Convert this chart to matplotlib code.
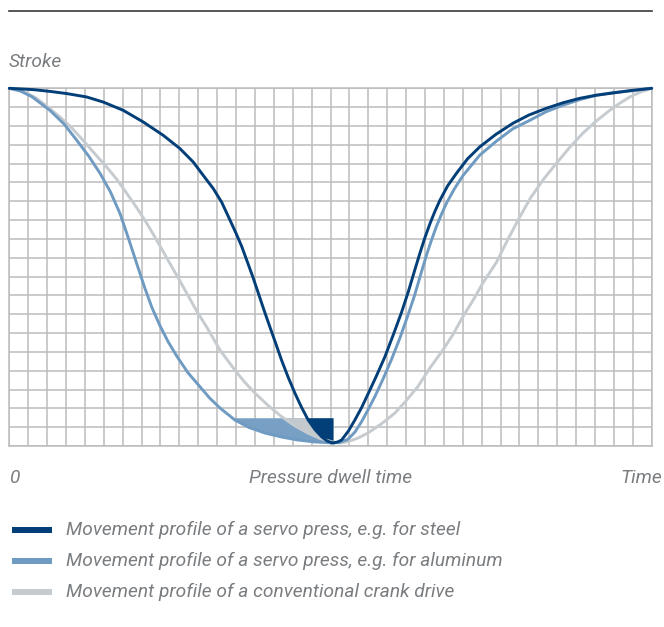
import matplotlib
matplotlib.use("Agg")
import matplotlib.pyplot as plt
from matplotlib.lines import Line2D
from matplotlib.patches import Rectangle

# grid units: 34 columns x 19 rows, stroke 19 = top dead centre
steel_x = [0, 1.27, 2.2, 3.04, 4.09, 4.97, 6.03, 7.09, 8.15, 9.03, 9.73, 10.26, 10.79,
           11.24, 11.68, 12.0, 12.3, 12.6, 12.9, 13.17, 13.48, 13.79, 14.1, 14.41,
           14.76, 15.12, 15.47, 15.82, 16.18, 16.53, 16.85, 17.13,
           17.4, 17.59, 17.95, 18.29, 18.65, 18.98, 19.43, 19.88, 20.32, 20.76, 21.12,
           21.47, 21.75, 21.99, 22.26, 22.52, 22.79, 23.2, 23.67, 24.25, 24.9, 25.75,
           26.65, 27.5, 28.43, 29.3, 30.2, 31.05, 31.94, 32.9, 34]
steel_y = [19, 18.93, 18.83, 18.72, 18.54, 18.27, 17.83, 17.21, 16.5, 15.8, 15.09, 14.38, 13.68,
           12.95, 12.0, 11.3, 10.6, 9.78, 8.95, 8.15, 7.22, 6.33, 5.45, 4.56,
           3.65, 2.8, 2.05, 1.38, 0.87, 0.49, 0.25, 0.16,
           0.22, 0.32, 0.8, 1.38, 2.05, 2.75, 3.72, 4.74, 5.9, 7.1, 8.2,
           9.38, 10.3, 11.05, 11.8, 12.45, 13.05, 13.82, 14.49, 15.25, 15.89, 16.55,
           17.14, 17.58, 17.94, 18.23, 18.47, 18.63, 18.75, 18.88, 19]

alu_x = [0, 0.6, 1.2, 2.15, 2.9, 3.57, 4.2, 4.8, 5.35, 5.86, 6.3, 6.74, 7.17, 7.55, 7.97,
         8.4, 8.86, 9.45, 10.09, 10.6, 11.15, 11.94, 12.7, 13.53, 14.4, 15.27, 16.1,
         16.86, 17.13,
         17.5, 17.92, 18.3, 18.65, 19.0, 19.36, 19.8, 20.23, 20.66, 21.1, 21.45, 21.8,
         22.1, 22.35, 22.6, 22.87, 23.13, 23.55, 24.0, 24.9, 25.79, 26.65, 27.55, 28.4,
         29.3, 30.2, 31.08, 31.95, 32.84, 34]
alu_y = [19, 18.85, 18.55, 17.83, 17.1, 16.24, 15.4, 14.49, 13.5, 12.35, 11.05, 9.7, 8.4, 7.35, 6.4,
         5.55, 4.78, 3.9, 3.15, 2.55, 2.02, 1.38, 0.98, 0.69, 0.48, 0.32, 0.22,
         0.18, 0.16,
         0.2, 0.35, 0.75, 1.3, 1.95, 2.65, 3.6, 4.6, 5.7, 6.95, 8.0, 9.2,
         10.2, 10.95, 11.65, 12.3, 12.88, 13.65, 14.35, 15.45, 16.2, 16.85, 17.3, 17.75,
         18.1, 18.4, 18.63, 18.77, 18.86, 19]

crank_x = [0, 0.7, 1.4, 2.05, 2.68, 3.3, 3.9, 4.5, 5.15, 5.7, 6.21, 6.75, 7.27, 7.85, 8.4,
           8.9, 9.39, 9.9, 10.44, 11.15, 11.94, 12.45, 13.0, 13.7, 14.41, 15.1, 15.8,
           16.45, 17.06, 17.13, 17.5,
           17.92, 18.45, 18.98, 19.7, 20.41, 21.0, 21.62, 22.26, 22.95, 23.5, 24.0, 24.55,
           25.06, 25.79, 26.4, 27.02, 27.6, 28.3, 28.96, 29.65, 30.35, 31.05, 31.78, 32.3,
           32.84, 33.4, 34]
crank_y = [19, 18.85, 18.5, 18.0, 17.48, 16.9, 16.24, 15.55, 14.82, 14.15, 13.43, 12.65, 11.84, 10.85, 9.87,
           9.0, 8.12, 7.2, 6.33, 5.1, 4.03, 3.4, 2.81, 2.15, 1.56, 1.08, 0.69,
           0.4, 0.23, 0.21, 0.16,
           0.23, 0.42, 0.69, 1.18, 1.75, 2.4, 3.15, 4.14, 5.1, 5.95, 6.86, 7.75,
           8.65, 9.77, 11.0, 12.17, 13.2, 14.2, 15.02, 15.85, 16.61, 17.25, 17.83, 18.2,
           18.54, 18.8, 19]

dwell_level = 1.5
dwell_end = 17.13

labels = ["Movement profile of a servo press, e.g. for steel",
          "Movement profile of a servo press, e.g. for aluminum",
          "Movement profile of a conventional crank drive"]

c_steel = "#023f78"
c_alu = "#6f9bc2"
c_crank = "#c6cbd0"
c_text = "#7a7d80"
c_grid = "#bcbcbc"

W, H = 664, 627
fig = plt.figure(figsize=(W / 100, H / 100), dpi=100)
ax = fig.add_axes([9.3 / W, 1 - 446 / H, (651.7 - 9.3) / W, (446 - 88.3) / H])
ax.set_xlim(0, 34)
ax.set_ylim(0, 19)
ax.set_xticks(range(35))
ax.set_yticks(range(20))
ax.tick_params(length=0, labelbottom=False, labelleft=False)
ax.grid(True, color=c_grid, lw=1.1)
ax.set_axisbelow(True)
for s in ax.spines.values():
    s.set_color(c_grid)
    s.set_linewidth(1.1)

# dwell fills, layered: aluminum, crank, steel
for xs, ys, col in [(alu_x, alu_y, "#789fc4"), (crank_x, crank_y, "#c4c9ce"),
                    (steel_x, steel_y, c_steel)]:
    px = [x for x in xs if x <= dwell_end]
    py = ys[:len(px)]
    ax.fill_between(px, py, dwell_level, where=[y < dwell_level for y in py],
                    interpolate=True, color=col, lw=0, zorder=2)

for xs, ys, col, z in [(crank_x, crank_y, c_crank, 3), (alu_x, alu_y, c_alu, 4),
                       (steel_x, steel_y, c_steel, 5)]:
    ax.plot(xs, ys, color=col, lw=2.1, zorder=z, clip_on=False,
            solid_capstyle="round", solid_joinstyle="round")

# top rule
fig.add_artist(Line2D([9 / W, 652 / W], [1 - 11 / H, 1 - 11 / H], color="#3a3a3a", lw=1.2))

font = dict(family="Roboto", style="italic", color=c_text, fontsize=13.8)
fig.text(9 / W, 1 - 62 / H, "Stroke", ha="left", va="center", **font)
fig.text(9 / W, 1 - 478 / H, "0", ha="left", va="center", **font)
fig.text(331 / W, 1 - 478 / H, "Pressure dwell time", ha="center", va="center", **font)
fig.text(662 / W, 1 - 478 / H, "Time", ha="right", va="center", **font)

for i, (lab, col) in enumerate(zip(labels, [c_steel, c_alu, c_crank])):
    yc = 530 + i * 31
    fig.add_artist(Rectangle((12 / W, 1 - (yc + 3) / H), 40 / W, 6 / H, color=col, lw=0))
    fig.text(66 / W, 1 - yc / H, lab, ha="left", va="center", **font)

fig.savefig("out.png", dpi=100)
